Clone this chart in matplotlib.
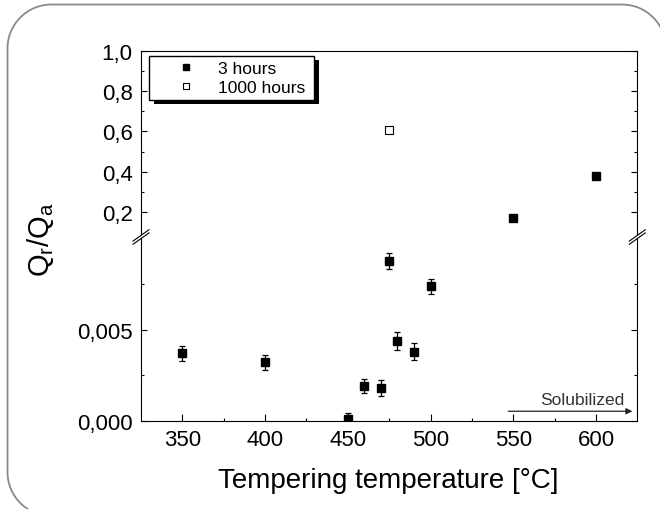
import matplotlib
matplotlib.use('Agg')
import matplotlib.pyplot as plt
from matplotlib.lines import Line2D
from matplotlib.patches import Rectangle, Polygon, PathPatch
from matplotlib.path import Path
from matplotlib.transforms import IdentityTransform

plt.rcParams['font.family'] = ['Liberation Sans', 'DejaVu Sans']
plt.rcParams['mathtext.fontset'] = 'custom'
plt.rcParams['mathtext.rm'] = 'Liberation Sans'

# data
temps_3h = [350, 400, 450, 460, 470, 475, 480, 490, 500, 550, 600]
ratio_3h = [0.0037, 0.0032, 0.0001, 0.0019, 0.0018, 0.0088, 0.0044, 0.0038, 0.0074, 0.169, 0.378]
err_3h = [0.0004, 0.00043, 0.0003, 0.0004, 0.00045, 0.00044, 0.0005, 0.00048, 0.00041, 0.0, 0.0]
temps_1000h = [475]
ratio_1000h = [0.608]

x_ticks = [350, 400, 450, 500, 550, 600]
x_minor = [375, 425, 475, 525, 575]
low_ticks = [0.0, 0.005]
low_tick_labels = ['0,000', '0,005']
low_minor = [0.0025, 0.0075]
high_ticks = [0.2, 0.4, 0.6, 0.8, 1.0]
high_tick_labels = ['0,2', '0,4', '0,6', '0,8', '1,0']
high_minor = [0.3, 0.5, 0.7, 0.9]

solub_from, solub_to, solub_level = 547, 622, 0.00052
solub_text_x, solub_text_y = 617, 0.00114

W, H = 660, 510
fig = plt.figure(figsize=(W / 100, H / 100), dpi=100)

left, right = 141 / W, 637.3 / W
y_bot, y_brk, y_top = 1 - 421.7 / H, 1 - 238 / H, 1 - 52 / H
ax_lo = fig.add_axes([left, y_bot, right - left, y_brk - y_bot])
ax_hi = fig.add_axes([left, y_brk, right - left, y_top - y_brk])

for ax in (ax_lo, ax_hi):
    ax.errorbar(temps_3h, ratio_3h, yerr=err_3h, fmt='s', color='black',
                ms=5.5, elinewidth=0.9, capsize=2.5, capthick=0.9)
    ax.plot(temps_1000h, ratio_1000h, 's', mfc='white', mec='black', mew=0.8, ms=5.5)
    ax.set_xlim(325, 625)
    ax.set_xticks(x_ticks)
    ax.set_xticks(x_minor, minor=True)
    for s in ax.spines.values():
        s.set_linewidth(0.8)
    ax.tick_params(which='both', direction='in', left=True, right=True, top=False,
                   width=0.8, labelsize=16, pad=6)
    ax.tick_params(which='major', length=4)
    ax.tick_params(which='minor', length=2.5)

ax_lo.set_ylim(0, 0.0101)
ax_lo.set_yticks(low_ticks)
ax_lo.set_yticklabels(low_tick_labels)
ax_lo.set_yticks(low_minor, minor=True)
ax_lo.spines['top'].set_visible(False)
ax_lo.tick_params(axis='x', which='major', length=5)

ax_hi.set_ylim(0.075, 1.0)
ax_hi.set_yticks(high_ticks)
ax_hi.set_yticklabels(high_tick_labels)
ax_hi.set_yticks(high_minor, minor=True)
ax_hi.spines['bottom'].set_visible(False)
ax_hi.tick_params(axis='x', which='both', bottom=False, labelbottom=False)

# Solubilized arrow
ax_lo.annotate('', xy=(solub_to, solub_level), xytext=(solub_from, solub_level),
               arrowprops=dict(arrowstyle='-|>', color='#222222', lw=0.9,
                               mutation_scale=9, shrinkA=0, shrinkB=0))
ax_lo.text(solub_text_x, solub_text_y, 'Solubilized', ha='right', va='center',
           fontsize=12.5, color='#333333')

# legend
handles = [Line2D([], [], ls='none', marker='s', color='black', ms=5),
           Line2D([], [], ls='none', marker='s', mfc='white', mec='black', mew=0.8, ms=5)]
leg = ax_hi.legend(handles, ['3 hours', '1000 hours'], loc='upper left',
                   bbox_to_anchor=(149.3 / W, 1 - 109 / H, (314 - 149.3) / W, (109 - 56.7) / H),
                   bbox_transform=fig.transFigure, mode='expand', borderaxespad=0,
                   fontsize=12.5, borderpad=0.3, labelspacing=0.2, handlelength=3.6,
                   handletextpad=0.05, fancybox=False, framealpha=1)
leg.get_frame().set_edgecolor('black')
leg.get_frame().set_linewidth(1.0)

# axis labels
fig.text(388 / W, 1 - 481 / H, 'Tempering temperature [°C]', ha='center', va='center', fontsize=20)
fig.text(41 / W, 1 - 240 / H, r'Q$_\mathrm{r}$/Q$_\mathrm{a}$', ha='center', va='center',
         rotation=90, fontsize=21)

# axis break marks on both spines
px = IdentityTransform()
for xs in (141, 637.3):
    yb = H - 238
    fig.add_artist(Polygon([(xs - 7, yb - 6.5), (xs + 7, yb + 3.5), (xs + 7, yb + 6.5), (xs - 7, yb - 3.5)],
                           closed=True, transform=px, facecolor='white', edgecolor='none', zorder=10))
    for dy in (-1.6, 1.6):
        fig.add_artist(Line2D([xs - 8, xs + 8], [yb - 5.7 + dy, yb + 5.7 + dy], transform=px,
                              color='black', lw=0.8, zorder=11))

# rounded outer frame: only the left edge, top edge and two corners show
k = 0.5523  # bezier constant for quarter circles
r = 44
xl, yt = 7.5, H - 5.5
xr, yb0 = 666, H - 517
frame = Path([(xl + r, yb0), (xl + r * (1 - k), yb0), (xl, yb0 + r * (1 - k)), (xl, yb0 + r),
              (xl, yt - r), (xl, yt - r * (1 - k)), (xl + r * (1 - k), yt), (xl + r, yt),
              (xr - r, yt), (xr - r * (1 - k), yt), (xr, yt - r * (1 - k)), (xr, yt - r)],
             [Path.MOVETO, Path.CURVE4, Path.CURVE4, Path.CURVE4,
              Path.LINETO, Path.CURVE4, Path.CURVE4, Path.CURVE4,
              Path.LINETO, Path.CURVE4, Path.CURVE4, Path.CURVE4])
fig.add_artist(PathPatch(frame, transform=px, facecolor='none', edgecolor='#8a8a8a', lw=1.3))

# legend shadow, offset down-right
fig.canvas.draw()
bb = leg.get_frame().get_window_extent(fig.canvas.get_renderer())
shadow = Rectangle((bb.x0 + 4.5, bb.y0 - 4.5), bb.width, bb.height, transform=px,
                   facecolor='black', edgecolor='none', zorder=leg.get_zorder() - 0.5, clip_on=False)
ax_hi.add_artist(shadow)

fig.savefig('out.png', dpi=100)
